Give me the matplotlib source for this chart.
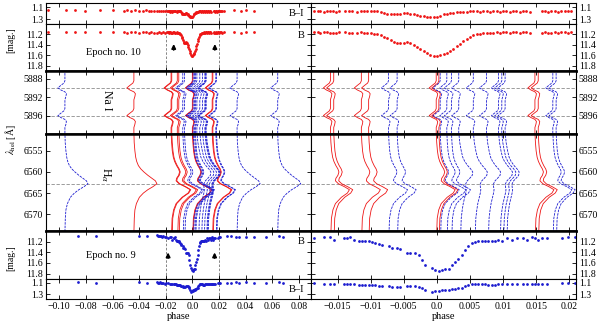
import matplotlib
matplotlib.use('Agg')
import matplotlib.pyplot as plt
from matplotlib.gridspec import GridSpec

plt.rcParams['font.family'] = ['Liberation Serif', 'DejaVu Serif']
plt.rcParams['mathtext.fontset'] = 'stix'
plt.rcParams['font.size'] = 7

RED = '#ee1515'
BLUE = '#1c1cd0'

# ---- light curves, epoch 10 (red) ----
ep10_phase = [-0.1084, -0.0953, -0.0883, -0.0808, -0.0694, -0.0594, -0.0513, -0.0493,
              -0.0463, -0.0430, -0.0400, -0.0375, -0.0350, -0.0330, -0.0310, -0.0290,
              -0.0270, -0.0250, -0.0235, -0.0220, -0.0205, -0.0195,
              -0.0185, -0.0180, -0.0176, -0.0171, -0.0166, -0.0161, -0.0157, -0.0152,
              -0.0147, -0.0138, -0.0133, -0.0128, -0.0120, -0.0115, -0.0110, -0.0105,
              -0.0100, -0.0095, -0.0090, -0.0085, -0.0080, -0.0075, -0.0070, -0.0065,
              -0.0060, -0.0055, -0.0050, -0.0045, -0.0040, -0.0035, -0.0030, -0.0025,
              -0.0020, -0.0015, -0.0010, -0.0005, 0.0000, 0.0005, 0.0010, 0.0015,
              0.0020, 0.0025, 0.0030, 0.0035, 0.0040, 0.0045, 0.0050, 0.0055,
              0.0060, 0.0065, 0.0070, 0.0075, 0.0080, 0.0085, 0.0090, 0.0095,
              0.0100, 0.0105, 0.0110, 0.0115, 0.0120, 0.0125, 0.0130, 0.0135,
              0.0140, 0.0158, 0.0163, 0.0168, 0.0173, 0.0178, 0.0183, 0.0188,
              0.0193, 0.0198, 0.0203, 0.0215, 0.0225, 0.0236, 0.0312, 0.0362,
              0.0400, 0.0463]
ep10_B = [11.16, 11.16, 11.15, 11.16, 11.16, 11.15, 11.16, 11.17,
          11.16, 11.16, 11.17, 11.16, 11.16, 11.17, 11.16, 11.17,
          11.17, 11.16, 11.17, 11.16, 11.17, 11.16,
          11.16, 11.16, 11.17, 11.16, 11.16, 11.17, 11.17, 11.17,
          11.16, 11.16, 11.17, 11.17, 11.17, 11.16, 11.17, 11.17,
          11.18, 11.19, 11.19, 11.21, 11.24, 11.27, 11.31, 11.34,
          11.36, 11.37, 11.36, 11.35, 11.36, 11.40, 11.44, 11.48,
          11.52, 11.56, 11.59, 11.61, 11.61, 11.60, 11.58, 11.55,
          11.51, 11.47, 11.42, 11.38, 11.33, 11.29, 11.25, 11.22,
          11.20, 11.19, 11.18, 11.17, 11.17, 11.17, 11.16, 11.17,
          11.16, 11.16, 11.17, 11.16, 11.16, 11.17, 11.16, 11.16,
          11.17, 11.17, 11.16, 11.17, 11.18, 11.16, 11.17, 11.16,
          11.16, 11.17, 11.16, 11.16, 11.17, 11.16, 11.16, 11.17,
          11.16, 11.16]
ep10_BI = [1.15, 1.15, 1.15, 1.16, 1.15, 1.15, 1.16, 1.15,
           1.16, 1.15, 1.16, 1.16, 1.15, 1.16, 1.16, 1.16,
           1.17, 1.16, 1.16, 1.17, 1.16, 1.17,
           1.17, 1.17, 1.17, 1.18, 1.17, 1.17, 1.17, 1.18,
           1.17, 1.17, 1.17, 1.17, 1.18, 1.17, 1.17, 1.17,
           1.17, 1.17, 1.17, 1.18, 1.20, 1.21, 1.22, 1.22,
           1.22, 1.21, 1.20, 1.20, 1.21, 1.22, 1.23, 1.24,
           1.25, 1.26, 1.27, 1.27, 1.26, 1.24, 1.22, 1.21,
           1.20, 1.19, 1.18, 1.18, 1.18, 1.18, 1.17, 1.17,
           1.17, 1.18, 1.17, 1.17, 1.18, 1.17, 1.17, 1.18,
           1.17, 1.17, 1.18, 1.17, 1.17, 1.18, 1.17, 1.17,
           1.18, 1.17, 1.17, 1.18, 1.17, 1.17, 1.18, 1.17,
           1.17, 1.17, 1.17, 1.16, 1.16, 1.16, 1.15, 1.16,
           1.15, 1.16]

# ---- light curves, epoch 9 (blue) ----
ep9_phase = [-0.0858, -0.0725, -0.0405, -0.0342, -0.0266, -0.0258, -0.0250, -0.0242,
             -0.0234, -0.0226, -0.0218, -0.0210, -0.0200,
             -0.01858, -0.01707, -0.01607, -0.01557, -0.01406, -0.01356, -0.01306, -0.01256,
             -0.01180, -0.01130, -0.01080, -0.01030, -0.00979, -0.00929, -0.00879, -0.00828,
             -0.00728, -0.00678, -0.00603, -0.00553, -0.00452, -0.00402, -0.00326, -0.00276,
             -0.00226, -0.00176, -0.00075, -0.00025, 0.00025, 0.00075, 0.00126, 0.00176,
             0.00226, 0.00276, 0.00326, 0.00377, 0.00427, 0.00477, 0.00527, 0.00577,
             0.00628, 0.00678, 0.00728, 0.00778, 0.00829, 0.00879, 0.00929, 0.00979,
             0.01054, 0.01130, 0.01205, 0.01306, 0.01356, 0.01431, 0.01481, 0.01531,
             0.01581, 0.01657, 0.01883, 0.01983, 0.02084,
             0.0262, 0.0287, 0.0325, 0.0350, 0.0400, 0.0463, 0.0551, 0.0651, 0.0677]
ep9_B = [11.09, 11.09, 11.09, 11.10, 11.08, 11.09, 11.10, 11.09,
         11.10, 11.11, 11.10, 11.11, 11.12,
         11.14, 11.12, 11.11, 11.17, 11.14, 11.14, 11.12, 11.17,
         11.18, 11.18, 11.18, 11.19, 11.20, 11.23, 11.24, 11.26,
         11.29, 11.32, 11.32, 11.34, 11.42, 11.41, 11.41, 11.45,
         11.54, 11.64, 11.70, 11.73, 11.75, 11.74, 11.72, 11.72,
         11.64, 11.59, 11.53, 11.45, 11.36, 11.28, 11.23, 11.20,
         11.18, 11.18, 11.18, 11.18, 11.19, 11.19, 11.17, 11.18,
         11.14, 11.16, 11.14, 11.14, 11.16, 11.12, 11.14, 11.16,
         11.14, 11.14, 11.14, 11.12, 11.12,
         11.10, 11.09, 11.11, 11.11, 11.12, 11.12, 11.12, 11.09, 11.12]
ep9_BI = [1.09, 1.10, 1.09, 1.10, 1.09, 1.10, 1.10, 1.09,
          1.10, 1.10, 1.10, 1.11, 1.10,
          1.10, 1.11, 1.11, 1.11, 1.11, 1.11, 1.12, 1.12,
          1.13, 1.13, 1.13, 1.13, 1.14, 1.14, 1.15, 1.15,
          1.16, 1.17, 1.17, 1.17, 1.16, 1.15, 1.16, 1.17,
          1.19, 1.22, 1.25, 1.24, 1.24, 1.23, 1.23, 1.22,
          1.21, 1.20, 1.19, 1.18, 1.16, 1.13, 1.11, 1.11,
          1.11, 1.11, 1.12, 1.13, 1.13, 1.13, 1.12, 1.12,
          1.11, 1.12, 1.11, 1.11, 1.11, 1.12, 1.12, 1.12,
          1.12, 1.11, 1.10, 1.10, 1.10,
          1.10, 1.10, 1.09, 1.10, 1.09, 1.10, 1.10, 1.09, 1.10]

# ---- spectra: normalized flux profiles ----
na_wave = [5886.0, 5888.4, 5888.9, 5889.4, 5889.95, 5890.4, 5890.8, 5891.2, 5891.8, 5892.5,
           5894.4, 5894.9, 5895.4, 5895.92, 5896.35, 5896.75, 5897.2, 5897.8, 5898.5, 5900.5]
na_flux = [1.0, 1.0, 0.95, 0.8, 0.65, 0.8, 1.0, 1.075, 1.05, 1.0,
           1.0, 0.95, 0.8, 0.65, 0.8, 1.0, 1.075, 1.05, 1.0, 1.0]

ha_wave = [6550.5, 6553.0, 6555.0, 6556.5, 6557.5, 6558.5, 6559.3, 6560.0, 6560.8, 6561.5,
           6562.1, 6562.8, 6563.5, 6564.2, 6565.0, 6566.0, 6567.5, 6569.0, 6571.0, 6574.5]
ha_out = [1.0, 1.015, 1.05, 1.09, 1.14, 1.225, 1.35, 1.5, 1.7, 1.9,
          2.075, 2.15, 1.95, 1.7, 1.475, 1.275, 1.125, 1.05, 1.02, 1.0]
ha_dbl = [1.0, 1.025, 1.06, 1.11, 1.175, 1.275, 1.375, 1.425, 1.375, 1.275,
          1.25, 1.4, 1.7, 1.95, 1.85, 1.55, 1.25, 1.125, 1.05, 1.025]
ha_blu = [1.0, 1.05, 1.125, 1.2, 1.3, 1.45, 1.6, 1.7, 1.675, 1.55,
          1.425, 1.35, 1.35, 1.375, 1.35, 1.3, 1.225, 1.175, 1.125, 1.1]

# phase of each spectrum, epoch and H-alpha profile type
spec_phase = [-0.0440, -0.01607, -0.01557, -0.0114, -0.0103, -0.0001, 0.0003, 0.0148, 0.0153,
              -0.0958, -0.0073, -0.0060, 0.0005, 0.0015, 0.0022, 0.0033, 0.0055, 0.0075,
              0.0093, 0.0098, 0.0103, 0.0175, 0.0180, 0.0335, 0.0640]
spec_epoch = [10, 10, 10, 10, 10, 10, 10, 10, 10,
              9, 9, 9, 9, 9, 9, 9, 9, 9, 9, 9, 9, 9, 9, 9, 9]
spec_ha = ['out', 'dbl', 'dbl', 'dbl', 'dbl', 'dbl', 'dbl', 'dbl', 'dbl',
           'out', 'dbl', 'dbl', 'dbl', 'dbl', 'dbl', 'blu', 'blu', 'blu',
           'blu', 'blu', 'blu', 'dbl', 'dbl', 'out', 'out']
ha_profiles = {'out': ha_out, 'dbl': ha_dbl, 'blu': ha_blu}

na_lines = [5889.95, 5895.92]
ha_line = 6562.8

left_ticks = [-0.10, -0.08, -0.06, -0.04, -0.02, 0.0, 0.02, 0.04, 0.06, 0.08]
left_ticklabels = ['\u22120.10', '\u22120.08', '\u22120.06', '\u22120.04', '\u22120.02',
                   '0.0', '0.02', '0.04', '0.06', '0.08']
right_ticks = [-0.015, -0.01, -0.005, 0.0, 0.005, 0.01, 0.015, 0.02]
right_ticklabels = ['\u22120.015', '\u22120.01', '\u22120.005', '0.0', '0.005', '0.01', '0.015', '0.02']

arrows10 = [-0.0141, 0.0168]
arrows9 = [-0.0183, 0.0166]

fig = plt.figure(figsize=(6, 3.25), dpi=100)
gs = GridSpec(6, 2, figure=fig, left=46/600, right=576/600, top=1-3/325, bottom=1-299/325,
              hspace=0, wspace=0, height_ratios=[21, 47, 63, 97, 48, 20])

xlims = [(-0.110, 0.089), (-0.019, 0.021)]
axes = [[fig.add_subplot(gs[r, c]) for c in range(2)] for r in range(6)]

for c in range(2):
    for r in range(6):
        ax = axes[r][c]
        ax.set_xlim(xlims[c])
        ax.tick_params(direction='in', top=True, bottom=True, left=True, right=True,
                       length=3, width=0.6, labelsize=7, pad=2)
        ax.tick_params(which='minor', length=0)
        for s in ax.spines.values():
            s.set_linewidth(0.8)
        if c == 0:
            ax.set_xticks(left_ticks)
        else:
            ax.set_xticks(right_ticks)
            ax.tick_params(labelleft=False, labelright=True)
        if r < 5:
            ax.tick_params(labelbottom=False)
    bot = axes[5][c]
    bot.set_xticklabels(left_ticklabels if c == 0 else right_ticklabels)
    bot.set_xlabel('phase', fontsize=7.5, labelpad=1)

    # magnitude panels
    for r, ph, vals, col in [(0, ep10_phase, ep10_BI, RED), (1, ep10_phase, ep10_B, RED),
                             (4, ep9_phase, ep9_B, BLUE), (5, ep9_phase, ep9_BI, BLUE)]:
        ax = axes[r][c]
        ax.plot(ph, vals, 'o', ms=2.0, color=col, mec='none')
    for r in (0, 5):
        axes[r][c].set_ylim(1.38, 1.03)
        axes[r][c].set_yticks([1.1, 1.3])
        axes[r][c].set_yticklabels(['1.1', '1.3'])
    for r in (1, 4):
        axes[r][c].set_ylim(11.9, 11.0)
        axes[r][c].set_yticks([11.2, 11.4, 11.6, 11.8])
        axes[r][c].set_yticklabels(['11.2', '11.4', '11.6', '11.8'])

    # spectra
    axNa = axes[2][c]
    axHa = axes[3][c]
    span = xlims[c][1] - xlims[c][0]
    k = 20.0 * span / 265.0
    for ph, ep, hk in zip(spec_phase, spec_epoch, spec_ha):
        col = RED if ep == 10 else BLUE
        ls = '-' if ep == 10 else (0, (3, 1.2))
        axNa.plot([ph + k * (f - 1) for f in na_flux], na_wave, color=col, ls=ls, lw=0.6)
        axHa.plot([ph + k * (f - 1) for f in ha_profiles[hk]], ha_wave, color=col, ls=ls, lw=0.6)
    for w in na_lines:
        axNa.axhline(w, color='0.55', ls=(0, (4, 2)), lw=0.6, zorder=0)
    axHa.axhline(ha_line, color='0.55', ls=(0, (4, 2)), lw=0.6, zorder=0)
    axNa.set_ylim(5899.9, 5886.3)
    axNa.set_yticks([5888, 5892, 5896])
    axNa.set_yticklabels(['5888', '5892', '5896'])
    axHa.set_ylim(6574.0, 6551.0)
    axHa.set_yticks([6555, 6560, 6565, 6570])
    axHa.set_yticklabels(['6555', '6560', '6565', '6570'])

    # thick separators around the spectral panels
    for ax in (axNa, axHa):
        ax.spines['top'].set_linewidth(1.8)
        ax.spines['bottom'].set_linewidth(1.8)
    axes[1][c].spines['bottom'].set_linewidth(1.8)
    axes[4][c].spines['top'].set_linewidth(1.8)

# zoom-window markers and arrows in left panels
for r in (0, 1, 4, 5):
    for v in (-0.02, 0.02):
        axes[r][0].axvline(v, color='0.45', ls=(0, (3, 2)), lw=0.6, zorder=0)
for x in arrows10:
    axes[1][0].annotate('', xy=(x, 11.33), xytext=(x, 11.55),
                        arrowprops=dict(arrowstyle='-|>', color='k', lw=1.2, mutation_scale=6))
for x in arrows9:
    axes[4][0].annotate('', xy=(x, 11.35), xytext=(x, 11.56),
                        arrowprops=dict(arrowstyle='-|>', color='k', lw=1.2, mutation_scale=6))

axes[0][0].text(0.975, 0.5, 'B\u2013I', transform=axes[0][0].transAxes, ha='right', va='center', fontsize=7.5)
axes[1][0].text(0.975, 0.76, 'B', transform=axes[1][0].transAxes, ha='right', va='center', fontsize=7.5)
axes[4][0].text(0.975, 0.78, 'B', transform=axes[4][0].transAxes, ha='right', va='center', fontsize=7.5)
axes[5][0].text(0.975, 0.5, 'B\u2013I', transform=axes[5][0].transAxes, ha='right', va='center', fontsize=7.5)
axes[1][0].text(0.152, 0.4, 'Epoch no. 10', transform=axes[1][0].transAxes, ha='left', va='center', fontsize=7.5)
axes[4][0].text(0.152, 0.48, 'Epoch no. 9', transform=axes[4][0].transAxes, ha='left', va='center', fontsize=7.5)
axes[2][0].text(0.231, 0.54, 'Na I', transform=axes[2][0].transAxes, ha='center', va='center',
                fontsize=8.5, rotation=-90)
axes[3][0].text(0.227, 0.58, r'H$_\alpha$', transform=axes[3][0].transAxes, ha='center', va='center',
                fontsize=8.5, rotation=-90)

fig.text(0.018, 1 - 40/325, '[mag.]', rotation=90, ha='center', va='center', fontsize=7)
fig.text(0.018, 1 - 258/325, '[mag.]', rotation=90, ha='center', va='center', fontsize=7)
fig.text(0.018, 1 - 140/325, r'$\lambda_{\rm hel}$ [\u00c5]'.replace('\\u00c5', '\u00c5'),
         rotation=90, ha='center', va='center', fontsize=7)

fig.savefig('out.png', dpi=100)
